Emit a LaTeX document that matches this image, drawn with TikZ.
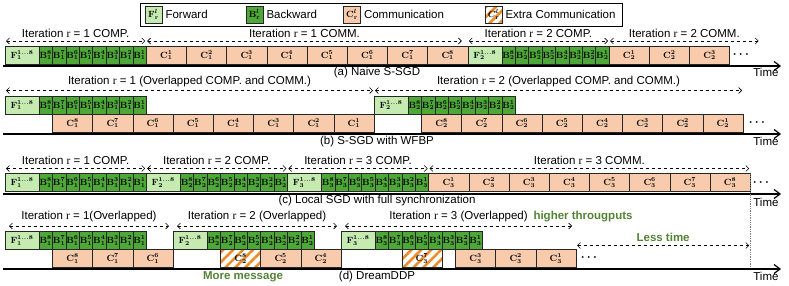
\documentclass[tikz,border=0pt]{standalone}
\usepackage[no-math]{fontspec}
\setmainfont{Liberation Sans}
\newfontfamily\serifr{Liberation Serif}
\usepackage{amsmath, amssymb}
\usepackage{tikz}
\usetikzlibrary{positioning, arrows.meta, patterns.meta, calc}
\definecolor{FwdGreen}{RGB}{197, 235, 176}
\definecolor{BwdGreen}{RGB}{78, 168, 56}
\definecolor{CommPeach}{RGB}{248, 203, 173}
\definecolor{HatchOrange}{RGB}{237, 140, 40}
\definecolor{NoteGreen}{RGB}{84, 130, 53}
\newcommand{\itr}[1]{Iteration {\serifr r} = #1}

\begin{document}
\begin{tikzpicture}[x=1pt, y=-1pt,
    box/.style={draw=black!85, line width=0.5pt, inner sep=0pt, outer sep=0pt, anchor=north west, minimum height=18pt, font=\small\boldmath},
    fwd/.style={box, fill=FwdGreen, minimum width=34pt},
    bwd/.style={box, fill=BwdGreen, minimum width=13.4pt},
    comm/.style={box, fill=CommPeach, minimum width=40.2pt},
    extra/.style={box, minimum width=40.2pt, pattern={Lines[angle=45, distance=7pt, line width=2.6pt]}, pattern color=HatchOrange},
    iter/.style={dashed, line width=0.6pt, shorten <=1pt, shorten >=1pt, {Straight Barb[length=3pt]}-{Straight Barb[length=3pt]}},
    lbl/.style={font=\fontsize{11.5}{13}\selectfont},
    note/.style={font=\fontsize{11.5}{13}\selectfont\bfseries, text=NoteGreen},
    dotsmark/.style={font=\large\boldmath},
    axisline/.style={line width=1.2pt, -{Straight Barb[length=6pt, width=9pt]}}]
    \useasboundingbox (0,0) rectangle (789,285);

    % Legend
    \draw[line width=0.7pt] (140,3) rectangle (622,26);
    \node[fwd, minimum width=17pt, minimum height=17pt] (lf) at (145,6) {$\mathbf{F}_{\mathrm{r}}^{l}$};
    \node[lbl, right=0pt of lf] {Forward};
    \node[bwd, minimum width=17pt, minimum height=17pt] (lb) at (246,6) {$\mathbf{B}_{\mathrm{r}}^{l}$};
    \node[lbl, right=0pt of lb] {Backward};
    \node[comm, minimum width=17pt, minimum height=17pt] (lc) at (343.5,6) {$\mathbf{C}_{\mathrm{r}}^{l}$};
    \node[lbl, right=0pt of lc] {Communication};
    \node[extra, minimum width=17pt, minimum height=17pt] (le) at (485,6) {$C_{\mathrm{r}}^{l}$};
    \node[lbl, right=0pt of le] {Extra Communication};

    % (a) Naive S-SGD
    \node[fwd] (fa1) at (5,46) {$\mathbf{F}_1^{1\ldots8}$};
    \foreach \l [count=\i from 0] in {8,7,...,1}
        \node[bwd] (ba1-\l) at (39+13.4*\i,46) {$\mathbf{B}_1^{\l}$};
    \foreach \l [count=\i from 0] in {1,...,8}
        \node[comm] (ca1-\l) at (146.2+40.2*\i,46) {$\mathbf{C}_1^{\l}$};
    \node[fwd] (fa2) at (467.8,46) {$\mathbf{F}_2^{1\ldots8}$};
    \foreach \l [count=\i from 0] in {8,7,...,1}
        \node[bwd] (ba2-\l) at (501.8+13.4*\i,46) {$\mathbf{B}_2^{\l}$};
    \foreach \l [count=\i from 0] in {1,2,3}
        \node[comm] (ca2-\l) at (609+40.2*\i,46) {$\mathbf{C}_2^{\l}$};
    \node[dotsmark] (dota) at (742,55) {$\cdots$};
    \draw[iter] ([yshift=5pt]fa1.north west) -- ([yshift=5pt]ba1-1.north east) node[midway, above, lbl] {\itr{1} COMP.};
    \draw[iter] ([yshift=5pt]ca1-1.north west) -- ([xshift=-5pt, yshift=5pt]ca1-8.north east) node[midway, above, lbl] {\itr{1} COMM.};
    \draw[iter] ([yshift=5pt]fa2.north west) -- ([yshift=5pt]ba2-1.north east) node[midway, above, lbl] {\itr{2} COMP.};
    \draw[iter] ([yshift=5pt]ca2-1.north west) -- ([xshift=30pt, yshift=5pt]ca2-3.north east) node[midway, above, lbl] {\itr{2} COMM.};
    \draw[axisline] (3,66) -- (781,66);
    \node[lbl, anchor=east] (ta) at (782,72.5) {Time};
    \node[lbl] (capa) at (377,72.5) {(a) Naive S-SGD};

    % (b) S-SGD with WFBP
    \node[fwd] (fb1) at (5,96) {$\mathbf{F}_1^{1\ldots8}$};
    \foreach \l [count=\i from 0] in {8,7,...,1}
        \node[bwd] (bb1-\l) at (39+13.4*\i,96) {$\mathbf{B}_1^{\l}$};
    \foreach \l [count=\i from 0] in {8,7,...,1}
        \node[comm] (cb1-\l) at (52.4+40.2*\i,114) {$\mathbf{C}_1^{\l}$};
    \node[fwd] (fb2) at (374,96) {$\mathbf{F}_2^{1\ldots8}$};
    \foreach \l [count=\i from 0] in {8,7,...,1}
        \node[bwd] (bb2-\l) at (408+13.4*\i,96) {$\mathbf{B}_2^{\l}$};
    \foreach \l [count=\i from 0] in {8,7,...,1}
        \node[comm] (cb2-\l) at (421.4+40.2*\i,114) {$\mathbf{C}_2^{\l}$};
    \node[dotsmark] (dotb) at (758,123) {$\cdots$};
    \draw[iter] ([yshift=5.5pt]fb1.north west) -- ([yshift=5.5pt]fb1.north west -| cb1-1.east) node[midway, above, lbl] {\itr{1} (Overlapped COMP. and COMM.)};
    \draw[iter] ([yshift=5.5pt]fb2.north west) -- ([yshift=5.5pt]fb2.north west -| cb2-1.east) node[midway, above, lbl] {\itr{2} (Overlapped COMP. and COMM.)};
    \draw[axisline] (3,134) -- (781,134);
    \node[lbl, anchor=east] (tb) at (782,141.5) {Time};
    \node[lbl] (capb) at (377,141.5) {(b) S-SGD with WFBP};

    % (c) Local SGD with full synchronization
    \node[fwd] (fc1) at (5,173.5) {$\mathbf{F}_1^{1\ldots8}$};
    \foreach \l [count=\i from 0] in {8,7,...,1}
        \node[bwd] (bc1-\l) at (39+13.4*\i,173.5) {$\mathbf{B}_1^{\l}$};
    \node[fwd] (fc2) at (146.2,173.5) {$\mathbf{F}_2^{1\ldots8}$};
    \foreach \l [count=\i from 0] in {8,7,...,1}
        \node[bwd] (bc2-\l) at (180.2+13.4*\i,173.5) {$\mathbf{B}_2^{\l}$};
    \node[fwd] (fc3) at (287.4,173.5) {$\mathbf{F}_3^{1\ldots8}$};
    \foreach \l [count=\i from 0] in {8,7,...,1}
        \node[bwd] (bc3-\l) at (321.4+13.4*\i,173.5) {$\mathbf{B}_3^{\l}$};
    \foreach \l [count=\i from 0] in {1,...,8}
        \node[comm] (cc3-\l) at (428.6+40.2*\i,173.5) {$\mathbf{C}_3^{\l}$};
    \node[dotsmark] (dotc) at (762,182.5) {$\cdots$};
    \draw[iter] ([yshift=5pt]fc1.north west) -- ([yshift=5pt]bc1-1.north east) node[midway, above, lbl] {\itr{1} COMP.};
    \draw[iter] ([yshift=5pt]fc2.north west) -- ([yshift=5pt]bc2-1.north east) node[midway, above, lbl] {\itr{2} COMP.};
    \draw[iter] ([yshift=5pt]fc3.north west) -- ([yshift=5pt]bc3-1.north east) node[midway, above, lbl] {\itr{3} COMP.};
    \draw[iter] ([yshift=5pt]cc3-1.north west) -- ([yshift=5pt]cc3-8.north east) node[midway, above, lbl] {\itr{3} COMM.};
    \draw[axisline] (3,194) -- (781,194);
    \node[lbl, anchor=east] (tc) at (782,202) {Time};
    \node[lbl] (capc) at (377,200.5) {(c) Local SGD with full synchronization};

    % (d) DreamDDP
    \node[fwd] (fd1) at (5,231.5) {$\mathbf{F}_1^{1\ldots8}$};
    \foreach \l [count=\i from 0] in {8,7,...,1}
        \node[bwd] (bd1-\l) at (39+13.4*\i,231.5) {$\mathbf{B}_1^{\l}$};
    \foreach \l [count=\i from 0] in {8,7,6}
        \node[comm] (cd1-\l) at (52.4+40.2*\i,249.5) {$\mathbf{C}_1^{\l}$};
    \node[fwd] (fd2) at (173,231.5) {$\mathbf{F}_2^{1\ldots8}$};
    \foreach \l [count=\i from 0] in {8,7,...,1}
        \node[bwd] (bd2-\l) at (207+13.4*\i,231.5) {$\mathbf{B}_2^{\l}$};
    \node[extra] (cd2-8) at (220.4,249.5) {$\mathbf{C}_2^{8}$};
    \node[comm] (cd2-5) at (260.6,249.5) {$\mathbf{C}_2^{5}$};
    \node[comm] (cd2-4) at (300.8,249.5) {$\mathbf{C}_2^{4}$};
    \node[fwd] (fd3) at (341,231.5) {$\mathbf{F}_3^{1\ldots8}$};
    \foreach \l [count=\i from 0] in {8,7,...,1}
        \node[bwd] (bd3-\l) at (375+13.4*\i,231.5) {$\mathbf{B}_3^{\l}$};
    \node[extra] (cd3-7) at (401.8,249.5) {$\mathbf{C}_3^{7}$};
    \foreach \l [count=\i from 0] in {3,2,1}
        \node[comm] (cd3-\l) at (455.4+40.2*\i,249.5) {$\mathbf{C}_3^{\l}$};
    \node[dotsmark] (dotd) at (590,258) {$\cdots$};
    \draw[iter, shorten <=4pt, shorten >=4pt] ([yshift=5.5pt]fd1.north west) -- ([yshift=5.5pt]fd1.north west -| cd1-6.east) node[midway, above, lbl] {\itr{1}(Overlapped)};
    \draw[iter, shorten <=4pt, shorten >=4pt] ([yshift=5.5pt]fd2.north west) -- ([yshift=5.5pt]fd2.north west -| cd2-4.east) node[midway, above, lbl] {\itr{2} (Overlapped)};
    \draw[iter, shorten <=4pt, shorten >=4pt] ([yshift=5.5pt]fd3.north west) -- ([yshift=5.5pt]fd3.north west -| cd3-1.east) node[midway, above, lbl] {\itr{3} (Overlapped)};
    \node[note] (thr) at (583,216.5) {higher througputs};
    \draw[gray, densely dotted, line width=1.3pt] (cc3-8.north east) -- (cc3-8.north east |- 0,269);
    \draw[iter] ([yshift=4pt]cd3-1.north east) -- ([yshift=4pt]cd3-1.north east -| cc3-8.east) node[midway, above, note] {Less time};
    \draw[axisline] (3,269) -- (781,269);
    \node[note] (more) at (243,277) {More message};
    \node[lbl, anchor=east] (td) at (782,276.5) {Time};
    \node[lbl] (capd) at (377,277) {(d) DreamDDP};
\end{tikzpicture}
\end{document}
